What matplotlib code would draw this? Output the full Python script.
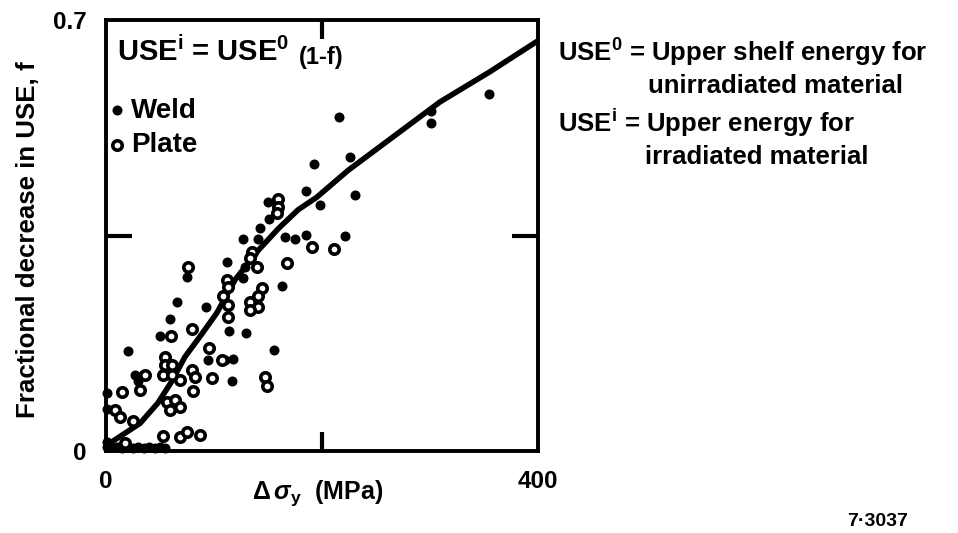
import matplotlib.pyplot as plt

plt.rcParams['font.family'] = ['Liberation Sans', 'DejaVu Sans']
plt.rcParams['font.weight'] = 'bold'
plt.rcParams['font.size'] = 17
plt.rcParams['mathtext.fontset'] = 'custom'
plt.rcParams['mathtext.rm'] = 'Liberation Sans:bold'
plt.rcParams['mathtext.it'] = 'Liberation Sans:bold:italic'
plt.rcParams['mathtext.bf'] = 'Liberation Sans:bold'

# weld (filled) points
weld_x = [354.9, 216.0, 300.6, 300.6, 225.9, 192.6, 185.2, 230.5, 198.1, 150.3,
          151.2, 142.6, 127.1, 141.0, 165.7, 175.0, 185.2, 221.3, 111.6, 128.7,
          126.8, 162.7, 75.3, 66.0, 92.6, 59.3, 50.0, 113.9, 129.6, 155.8,
          20.1, 94.7, 110.2, 117.9, 26.9, 34.5, 29.9, 116.4, 0.5, 0.6,
          0.5, 0.5, 5, 10, 15, 20, 25, 30, 35, 40, 45, 50, 55]
weld_y = [0.580, 0.542, 0.553, 0.532, 0.478, 0.466, 0.423, 0.415, 0.400, 0.404,
          0.376, 0.363, 0.345, 0.345, 0.348, 0.345, 0.351, 0.350, 0.307, 0.299,
          0.281, 0.268, 0.282, 0.242, 0.234, 0.214, 0.187, 0.195, 0.191, 0.164,
          0.162, 0.148, 0.148, 0.149, 0.123, 0.123, 0.114, 0.113, 0.094, 0.068,
          0.015, 0.006, 0.006, 0.006, 0.005, 0.006, 0.005, 0.006, 0.005, 0.006,
          0.005, 0.006, 0.005]

# plate (open) points
plate_x = [76.2, 112.0, 108.6, 159.5, 159.5, 158.1, 191.0, 211.4, 167.3, 134.9,
           133.3, 139.5, 113.0, 113.0, 144.2, 141.0, 133.3, 141.0, 133.3, 113.0,
           79.3, 60.2, 95.6, 107.1, 54.6, 54.6, 60.8, 53.1, 60.8, 36.1,
           31.5, 79.3, 82.4, 68.5, 97.9, 80.8, 14.5, 8.3, 13.0, 56.2,
           63.9, 68.5, 59.3, 25.3, 53.1, 68.5, 74.7, 87.0, 17.6, 147.2, 148.8]
plate_y = [0.299, 0.278, 0.252, 0.409, 0.397, 0.386, 0.331, 0.328, 0.306, 0.324,
           0.313, 0.299, 0.266, 0.237, 0.264, 0.251, 0.242, 0.234, 0.229, 0.218,
           0.198, 0.187, 0.167, 0.148, 0.153, 0.140, 0.140, 0.123, 0.123, 0.123,
           0.099, 0.132, 0.121, 0.115, 0.118, 0.097, 0.096, 0.067, 0.056, 0.080,
           0.083, 0.072, 0.067, 0.049, 0.024, 0.023, 0.031, 0.026, 0.013, 0.121, 0.106]

# trend curve
fit_x = [0, 3.7, 31.5, 48, 60.8, 73.1, 87, 102.5, 119.4, 141, 160, 178, 195, 224.3, 309.3, 355.5, 398.8]
fit_y = [0.005, 0.013, 0.045, 0.078, 0.113, 0.153, 0.186, 0.224, 0.278, 0.326, 0.362, 0.392, 0.412, 0.456, 0.567, 0.616, 0.665]

fig = plt.figure(figsize=(9.58, 5.33), dpi=100)
ax = fig.add_axes([0.1107, 0.1538, 0.4509, 0.8087])

ax.plot(fit_x, fit_y, color='black', lw=4, solid_capstyle='round', solid_joinstyle='round', zorder=2)
ax.scatter(weld_x, weld_y, s=52, c='black', linewidths=0, label='Weld', zorder=3, clip_on=False)
ax.scatter(plate_x, plate_y, s=46, facecolors='white', edgecolors='black',
           linewidths=2.6, label='Plate', zorder=4, clip_on=False)

ax.set_xlim(0, 400)
ax.set_ylim(0, 0.7)
ax.set_xticks([0, 400])
ax.set_xticklabels(['0', '400'])
ax.set_yticks([0, 0.7])
ax.set_yticklabels(['0', '0.7'])
ax.set_xticks([200], minor=True)
ax.set_yticks([0.35], minor=True)
ax.tick_params(which='major', length=0, pad=14, labelsize=17.5)
ax.tick_params(axis='x', which='minor', direction='in', length=14, width=3, top=True, bottom=True)
ax.tick_params(axis='y', which='minor', direction='in', length=19, width=3, left=True, right=True)
for sp in ax.spines.values():
    sp.set_linewidth(2.8)

ax.legend(loc='upper left', bbox_to_anchor=(0.0, 0.82), frameon=False, scatterpoints=1,
          handletextpad=0.1, handlelength=0.8, labelspacing=0.32, borderpad=0,
          borderaxespad=0, fontsize=20)

ax.text(0.025, 1 - 41 / 431, r'USE$^{\mathrm{i}}$ = USE$^{\mathrm{0}}$', transform=ax.transAxes,
        fontsize=21, va='baseline', ha='left')
ax.text(0.447, 1 - 44 / 431, '(1-f)', transform=ax.transAxes, fontsize=17, va='baseline', ha='left')

fig.text(0.029, 1 - 240 / 533, 'Fractional decrease in USE, f', rotation=90, ha='center', va='center', fontsize=18.6)
fig.text(318 / 958, 1 - 493 / 533, r'$\Delta\,\sigma_{\mathrm{y}}$  (MPa)', ha='center', va='center', fontsize=18)

fig.text(558 / 958, 1 - 62 / 533, r'USE$^{\mathrm{0}}$ = Upper shelf energy for', ha='left', va='baseline', fontsize=18.5)
fig.text(648 / 958, 1 - 93 / 533, 'unirradiated material', ha='left', va='baseline', fontsize=18.5)
fig.text(558 / 958, 1 - 132 / 533, r'USE$^{\mathrm{i}}$ = Upper energy for', ha='left', va='baseline', fontsize=18.5)
fig.text(645 / 958, 1 - 164 / 533, 'irradiated material', ha='left', va='baseline', fontsize=18.5)

fig.text(878 / 958, 1 - 522 / 533, '7\u00b73037', ha='center', va='center', fontsize=14)

fig.savefig('out.png', dpi=100)
